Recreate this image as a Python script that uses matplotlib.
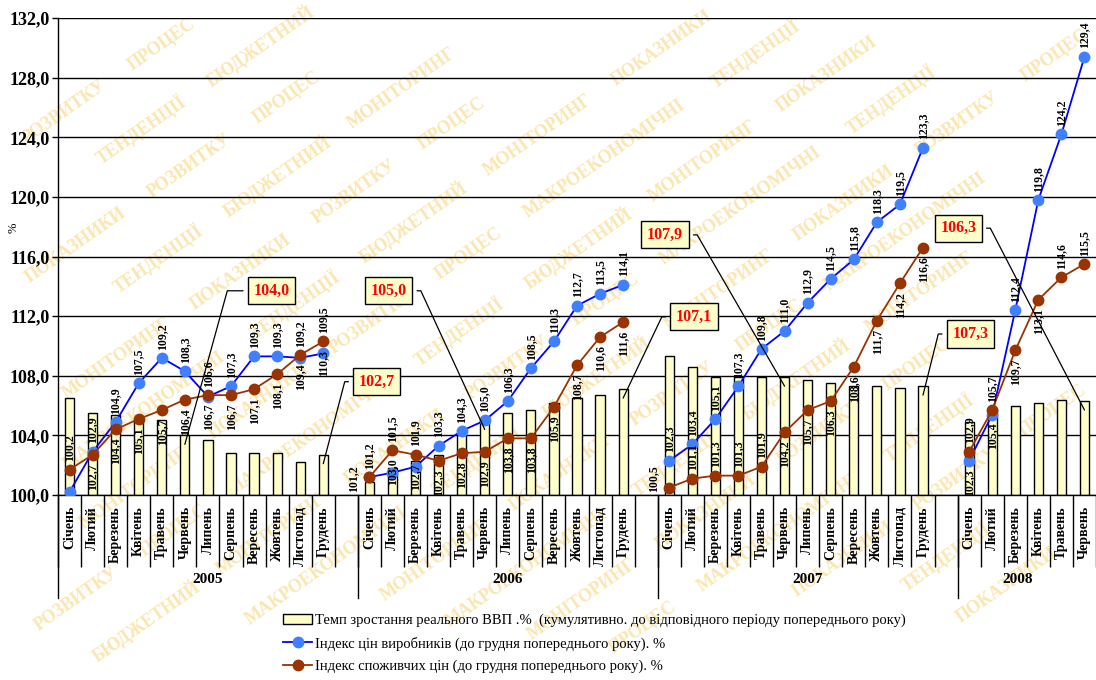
import matplotlib.pyplot as plt
from matplotlib.transforms import blended_transform_factory
from matplotlib.patches import Patch
from matplotlib.lines import Line2D
import numpy as np

plt.rcParams['font.family'] = ['Liberation Serif', 'DejaVu Serif']

# ---- data ----
months = ["Січень", "Лютий", "Березень", "Квітень", "Травень", "Червень",
          "Липень", "Серпень", "Вересень", "Жовтень", "Листопад", "Грудень"]
years = ["2005", "2006", "2007", "2008"]

# real GDP growth, cumulative (bars)
gdp_2005 = [106.5, 105.5, 105.4, 105.0, 105.0, 104.0, 103.7, 102.8, 102.8, 102.8, 102.2, 102.7]
gdp_2006 = [100.9, 101.8, 102.3, 102.7, 104.0, 105.0, 105.5, 105.7, 106.2, 106.5, 106.7, 107.1]
gdp_2007 = [109.3, 108.6, 107.9, 107.9, 107.9, 107.9, 107.7, 107.5, 107.3, 107.3, 107.2, 107.3]
gdp_2008 = [104.9, 105.8, 106.0, 106.2, 106.4, 106.3]

# producer price index (blue)
ppi_2005 = [100.2, 102.9, 104.9, 107.5, 109.2, 108.3, 106.6, 107.3, 109.3, 109.3, 109.2, 109.5]
ppi_2006 = [101.2, 101.5, 101.9, 103.3, 104.3, 105.0, 106.3, 108.5, 110.3, 112.7, 113.5, 114.1]
ppi_2007 = [102.3, 103.4, 105.1, 107.3, 109.8, 111.0, 112.9, 114.5, 115.8, 118.3, 119.5, 123.3]
ppi_2008 = [102.3, 105.4, 112.4, 119.8, 124.2, 129.4]

# consumer price index (brown)
cpi_2005 = [101.7, 102.7, 104.4, 105.1, 105.7, 106.4, 106.7, 106.7, 107.1, 108.1, 109.4, 110.3]
cpi_2006 = [101.2, 103.0, 102.7, 102.3, 102.8, 102.9, 103.8, 103.8, 105.9, 108.7, 110.6, 111.6]
cpi_2007 = [100.5, 101.1, 101.3, 101.3, 101.9, 104.2, 105.7, 106.3, 108.6, 111.7, 114.2, 116.6]
cpi_2008 = [102.9, 105.7, 109.7, 113.1, 114.6, 115.5]

legend_labels = [
    "Темп зростання реального ВВП .%  (кумулятивно. до відповідного періоду попереднього року)",
    "Індекс цін виробників (до грудня попереднього року). %",
    "Індекс споживчих цін (до грудня попереднього року). %",
]
watermark_words = ["МАКРОЕКОНОМІЧНІ", "ТЕНДЕНЦІЇ", "БЮДЖЕТНИЙ", "МОНІТОРИНГ",
                   "ПОКАЗНИКИ", "РОЗВИТКУ", "ПРОЦЕС"]


def with_gaps(*parts):
    # one empty category after each year, as in the source chart
    out = []
    for k, p in enumerate(parts):
        out += list(p)
        if k < len(parts) - 1:
            out.append(np.nan)
    return np.array(out, dtype=float)


def fmt(v):
    return f"{v:.1f}".replace('.', ',')


gdp = with_gaps(gdp_2005, gdp_2006, gdp_2007, gdp_2008)
ppi = with_gaps(ppi_2005, ppi_2006, ppi_2007, ppi_2008)
cpi = with_gaps(cpi_2005, cpi_2006, cpi_2007, cpi_2008)
cat_labels = months + [""] + months + [""] + months + [""] + months[:6]
x = np.arange(len(cat_labels))
year_sizes = [13, 13, 13, 6]

W, H = 1096, 680
fig = plt.figure(figsize=(W / 100, H / 100), dpi=100)
ax = fig.add_axes([58 / W, 1 - 495 / H, 1 - 58 / W, 477 / H])
ax.patch.set_visible(False)

# faint watermark words, laid along diagonal lines, each kept inside the figure
ang = np.radians(35)
u = np.array([np.cos(ang), -np.sin(ang)])   # along the line (pixel coords, y down)
v = np.array([np.sin(ang), np.cos(ang)])    # across the lines
centre = np.array([W / 2, H / 2])
k = 0
for j in range(-12, 13):
    t = -1300 + (j % 3) * 60
    while t < 1300:
        word = watermark_words[k % len(watermark_words)]
        k += 1
        length = len(word) * 13
        p = centre + j * 58 * v + (t + length / 2) * u
        t += length + 28
        hx = length / 2 * np.cos(ang) + 8
        hy = length / 2 * np.sin(ang) + 8
        if p[0] - hx < 0 or p[0] + hx > W or p[1] - hy < 0 or p[1] + hy > H:
            continue
        fig.text(p[0] / W, 1 - p[1] / H, word, rotation=35, ha='center', va='center',
                 rotation_mode='anchor', fontsize=13, fontweight='bold',
                 color='#FCE6B0', zorder=-5)

ax.bar(x, gdp - 100, bottom=100, width=0.4, color='#FFFFCC', edgecolor='black',
       linewidth=1.0, zorder=2)
ax.plot(x, ppi, color='#0000FF', lw=1.3, marker='o', ms=7.5,
        mfc='#4080FF', mec='#4080FF', zorder=4)
ax.plot(x, cpi, color='#993300', lw=1.3, marker='o', ms=7.5,
        mfc='#993300', mec='#993300', zorder=4)

ax.set_xlim(-0.474, 44.27)
ax.set_ylim(100, 132)
yt = np.arange(100, 133, 4)
ax.set_yticks(yt)
ax.set_yticklabels([fmt(v) for v in yt], fontsize=13, fontweight='bold')
ax.tick_params(axis='y', length=4, width=1, pad=2)
ax.yaxis.grid(True, color='black', lw=1)
ax.set_axisbelow(True)
for s in ['top', 'right']:
    ax.spines[s].set_visible(False)
ax.spines['left'].set_linewidth(1)
ax.spines['bottom'].set_linewidth(1)
ax.set_ylabel('%', fontsize=9)
ax.yaxis.set_label_coords(-38 / 1038, 0.56)

ax.set_xticks(x)
ax.set_xticklabels(cat_labels, rotation=90, fontsize=10, fontweight='bold', va='top')
ax.tick_params(axis='x', which='major', length=0, pad=8)
ax.set_xticks(np.arange(-0.5, len(x) - 0.4, 1), minor=True)
ax.tick_params(axis='x', which='minor', length=52, width=1)

trans = blended_transform_factory(ax.transData, ax.transAxes)
start = -0.5
for yr, n in zip(years, year_sizes):
    ax.plot([start, start], [0, -0.216], transform=trans, clip_on=False, color='black', lw=1)
    cx = start + n / 2 if n > 6 else start + 2.6
    ax.text(cx, -0.178, yr, transform=trans, ha='center', va='center',
            fontsize=11, fontweight='bold')
    start += n

# data labels
blue_below = {39, 40}
brown_above = {27, 28, 29, 30, 39, 40, 43, 44}
brown_left = {13, 26}
brown_hidden = {0}
lab = dict(textcoords='offset points', rotation=90, ha='center',
           fontsize=8.5, fontweight='bold', zorder=5)
for i in x:
    if np.isnan(ppi[i]):
        continue
    b, c = ppi[i], cpi[i]
    if i in blue_below:
        ax.annotate(fmt(b), (i, min(b, c)), xytext=(0, -6), va='top', **lab)
    else:
        ax.annotate(fmt(b), (i, max(b, c)), xytext=(0, 6), va='bottom', **lab)
    if i in brown_hidden:
        continue
    if i in brown_left:
        ax.annotate(fmt(c), (i - 0.7, 100), xytext=(0, 2), va='bottom', **lab)
    elif i in brown_above:
        ax.annotate(fmt(c), (i, c), xytext=(0, 6), va='bottom', **lab)
    else:
        ax.annotate(fmt(c), (i, c), xytext=(0, -6), va='top', **lab)

# callouts on the half-year / year bars
callouts = [  # (bar index, box x, box y, side, arm)
    (5, 8.75, 113.7, 'left', 26),
    (11, 13.32, 107.6, 'left', 14),
    (18, 13.84, 113.7, 'right', 14),
    (24, 27.07, 111.95, 'left', 14),
    (31, 25.82, 117.45, 'right', 14),
    (37, 39.05, 110.8, 'left', 14),
    (44, 38.53, 117.9, 'right', 14),
]
for idx, bx, by, side, arm in callouts:
    a = 180 if side == 'left' else 0
    rel = (0, 0.5) if side == 'left' else (1, 0.5)
    ax.annotate(fmt(gdp[idx]), xy=(idx, gdp[idx] - 0.6),
                xytext=(bx, by), textcoords='data', ha='center', va='center',
                color='red', fontsize=11.5, fontweight='bold', zorder=6,
                bbox=dict(boxstyle='square,pad=0.35', fc='#FFFFCC', ec='black', lw=1),
                arrowprops=dict(arrowstyle='-', color='black', lw=0.9, relpos=rel,
                                shrinkA=3, shrinkB=0,
                                connectionstyle=f'arc,angleA={a},armA={arm},angleB=0,armB=0,rad=0'))

handles = [Patch(fc='#FFFFCC', ec='black', lw=1),
           Line2D([], [], color='#0000FF', lw=1.3, marker='o', ms=7.5, mfc='#4080FF', mec='#4080FF'),
           Line2D([], [], color='#993300', lw=1.3, marker='o', ms=7.5, mfc='#993300', mec='#993300')]
fig.legend(handles, legend_labels, loc='upper left', bbox_to_anchor=(283 / W, 1 - 614 / H),
           frameon=False, fontsize=10.5, handlelength=2.0, handletextpad=0.2,
           labelspacing=0.62, borderpad=0, borderaxespad=0)

fig.savefig('out.png', dpi=100)
